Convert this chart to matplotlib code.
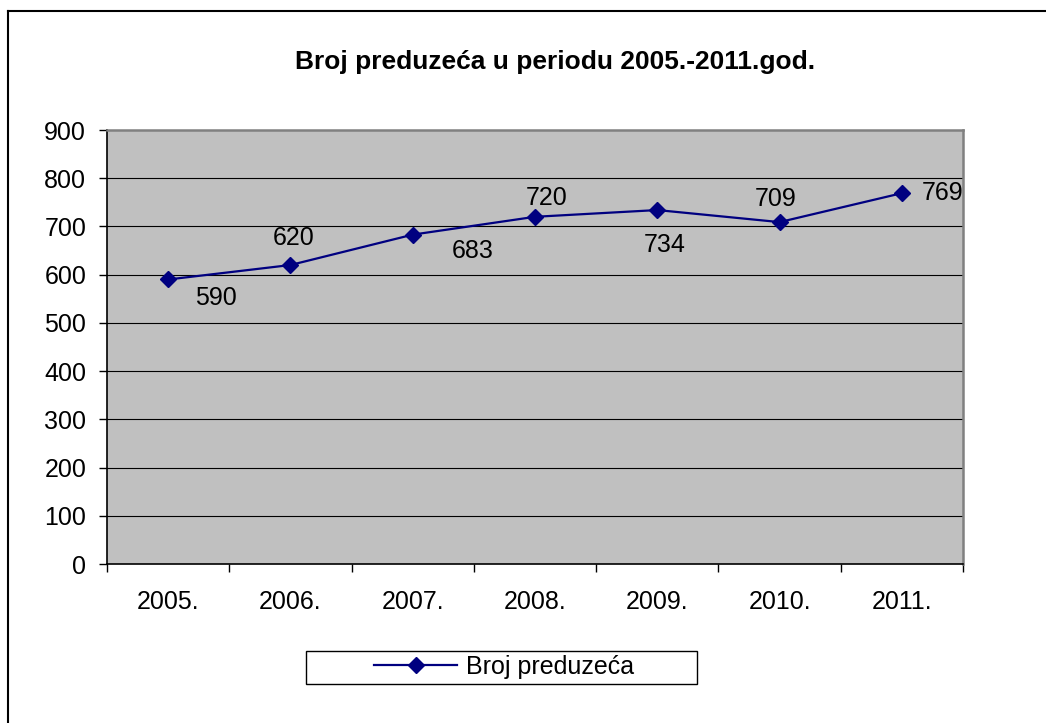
import matplotlib
matplotlib.use('Agg')
import matplotlib.pyplot as plt
from matplotlib.lines import Line2D
from matplotlib.patches import Rectangle

# data
years = ['2005.', '2006.', '2007.', '2008.', '2009.', '2010.', '2011.']
companies = [590, 620, 683, 720, 734, 709, 769]
series_name = 'Broj preduzeća'
title = 'Broj preduzeća u periodu 2005.-2011.god.'

# manual label placement (pixels from the point), like the original
label_offsets = [(48, -19), (3, 27), (60, -16), (12, 19), (7, -35), (-4, 23), (41, 0)]

plt.rcParams['font.family'] = ['Liberation Sans', 'DejaVu Sans']
FS = 18

W, H = 1046, 723
fig = plt.figure(figsize=(W / 100, H / 100), dpi=100)
ax = fig.add_axes([107 / W, 1 - 564 / H, (963 - 107) / W, (564 - 130) / H])
ax.set_facecolor('#C0C0C0')

x = list(range(len(years)))
ax.plot(x, companies, color='#000080', lw=1.6, marker='D', ms=8.5,
        mfc='#000080', mec='#000080', label=series_name, zorder=3)

for xi, val, off in zip(x, companies, label_offsets):
    ax.annotate(str(val), (xi, val), xytext=off, textcoords='offset pixels',
                ha='center', va='center', fontsize=FS, color='black')

ax.set_xlim(-0.5, len(years) - 0.5)
ax.set_ylim(0, 900)
ax.set_yticks(range(0, 1000, 100))
ax.tick_params(axis='y', labelsize=FS, length=6, width=1, pad=9, direction='out')

# ticks between categories, labels at category centers
ax.set_xticks([i - 0.5 for i in range(len(years) + 1)])
ax.set_xticklabels([])
ax.set_xticks(x, minor=True)
ax.set_xticklabels(years, minor=True)
ax.tick_params(axis='x', which='major', length=6, width=1, direction='out')
ax.tick_params(axis='x', which='minor', length=0, labelsize=FS, pad=19)

for y in range(100, 900, 100):
    ax.axhline(y, color='black', lw=0.8, zorder=1)

ax.spines['left'].set_color('black')
ax.spines['bottom'].set_color('black')
ax.spines['left'].set_linewidth(1.2)
ax.spines['bottom'].set_linewidth(1.2)
ax.spines['top'].set_color('#808080')
ax.spines['right'].set_color('#808080')
ax.spines['top'].set_linewidth(1.8)
ax.spines['right'].set_linewidth(1.8)

fig.text(555 / W, 1 - 62 / H, title, ha='center', va='center',
         fontsize=19, fontweight='bold')

ax.legend(loc='center', bbox_to_anchor=(504 / W, 1 - 667 / H),
          bbox_transform=fig.transFigure, frameon=False, fontsize=FS,
          handlelength=3.3, handletextpad=0.35)
fig.add_artist(Rectangle((306 / W, 1 - 684 / H), 391 / W, 33 / H,
                         transform=fig.transFigure, fill=False,
                         edgecolor='black', lw=1))

# outer chart border (only left and top are visible in the image)
fig.add_artist(Line2D([8 / W, 8 / W], [0, 1 - 11 / H], transform=fig.transFigure,
                      color='black', lw=1.5))
fig.add_artist(Line2D([8 / W, 1], [1 - 11 / H, 1 - 11 / H], transform=fig.transFigure,
                      color='black', lw=1.5))

fig.savefig('out.png', dpi=100)
